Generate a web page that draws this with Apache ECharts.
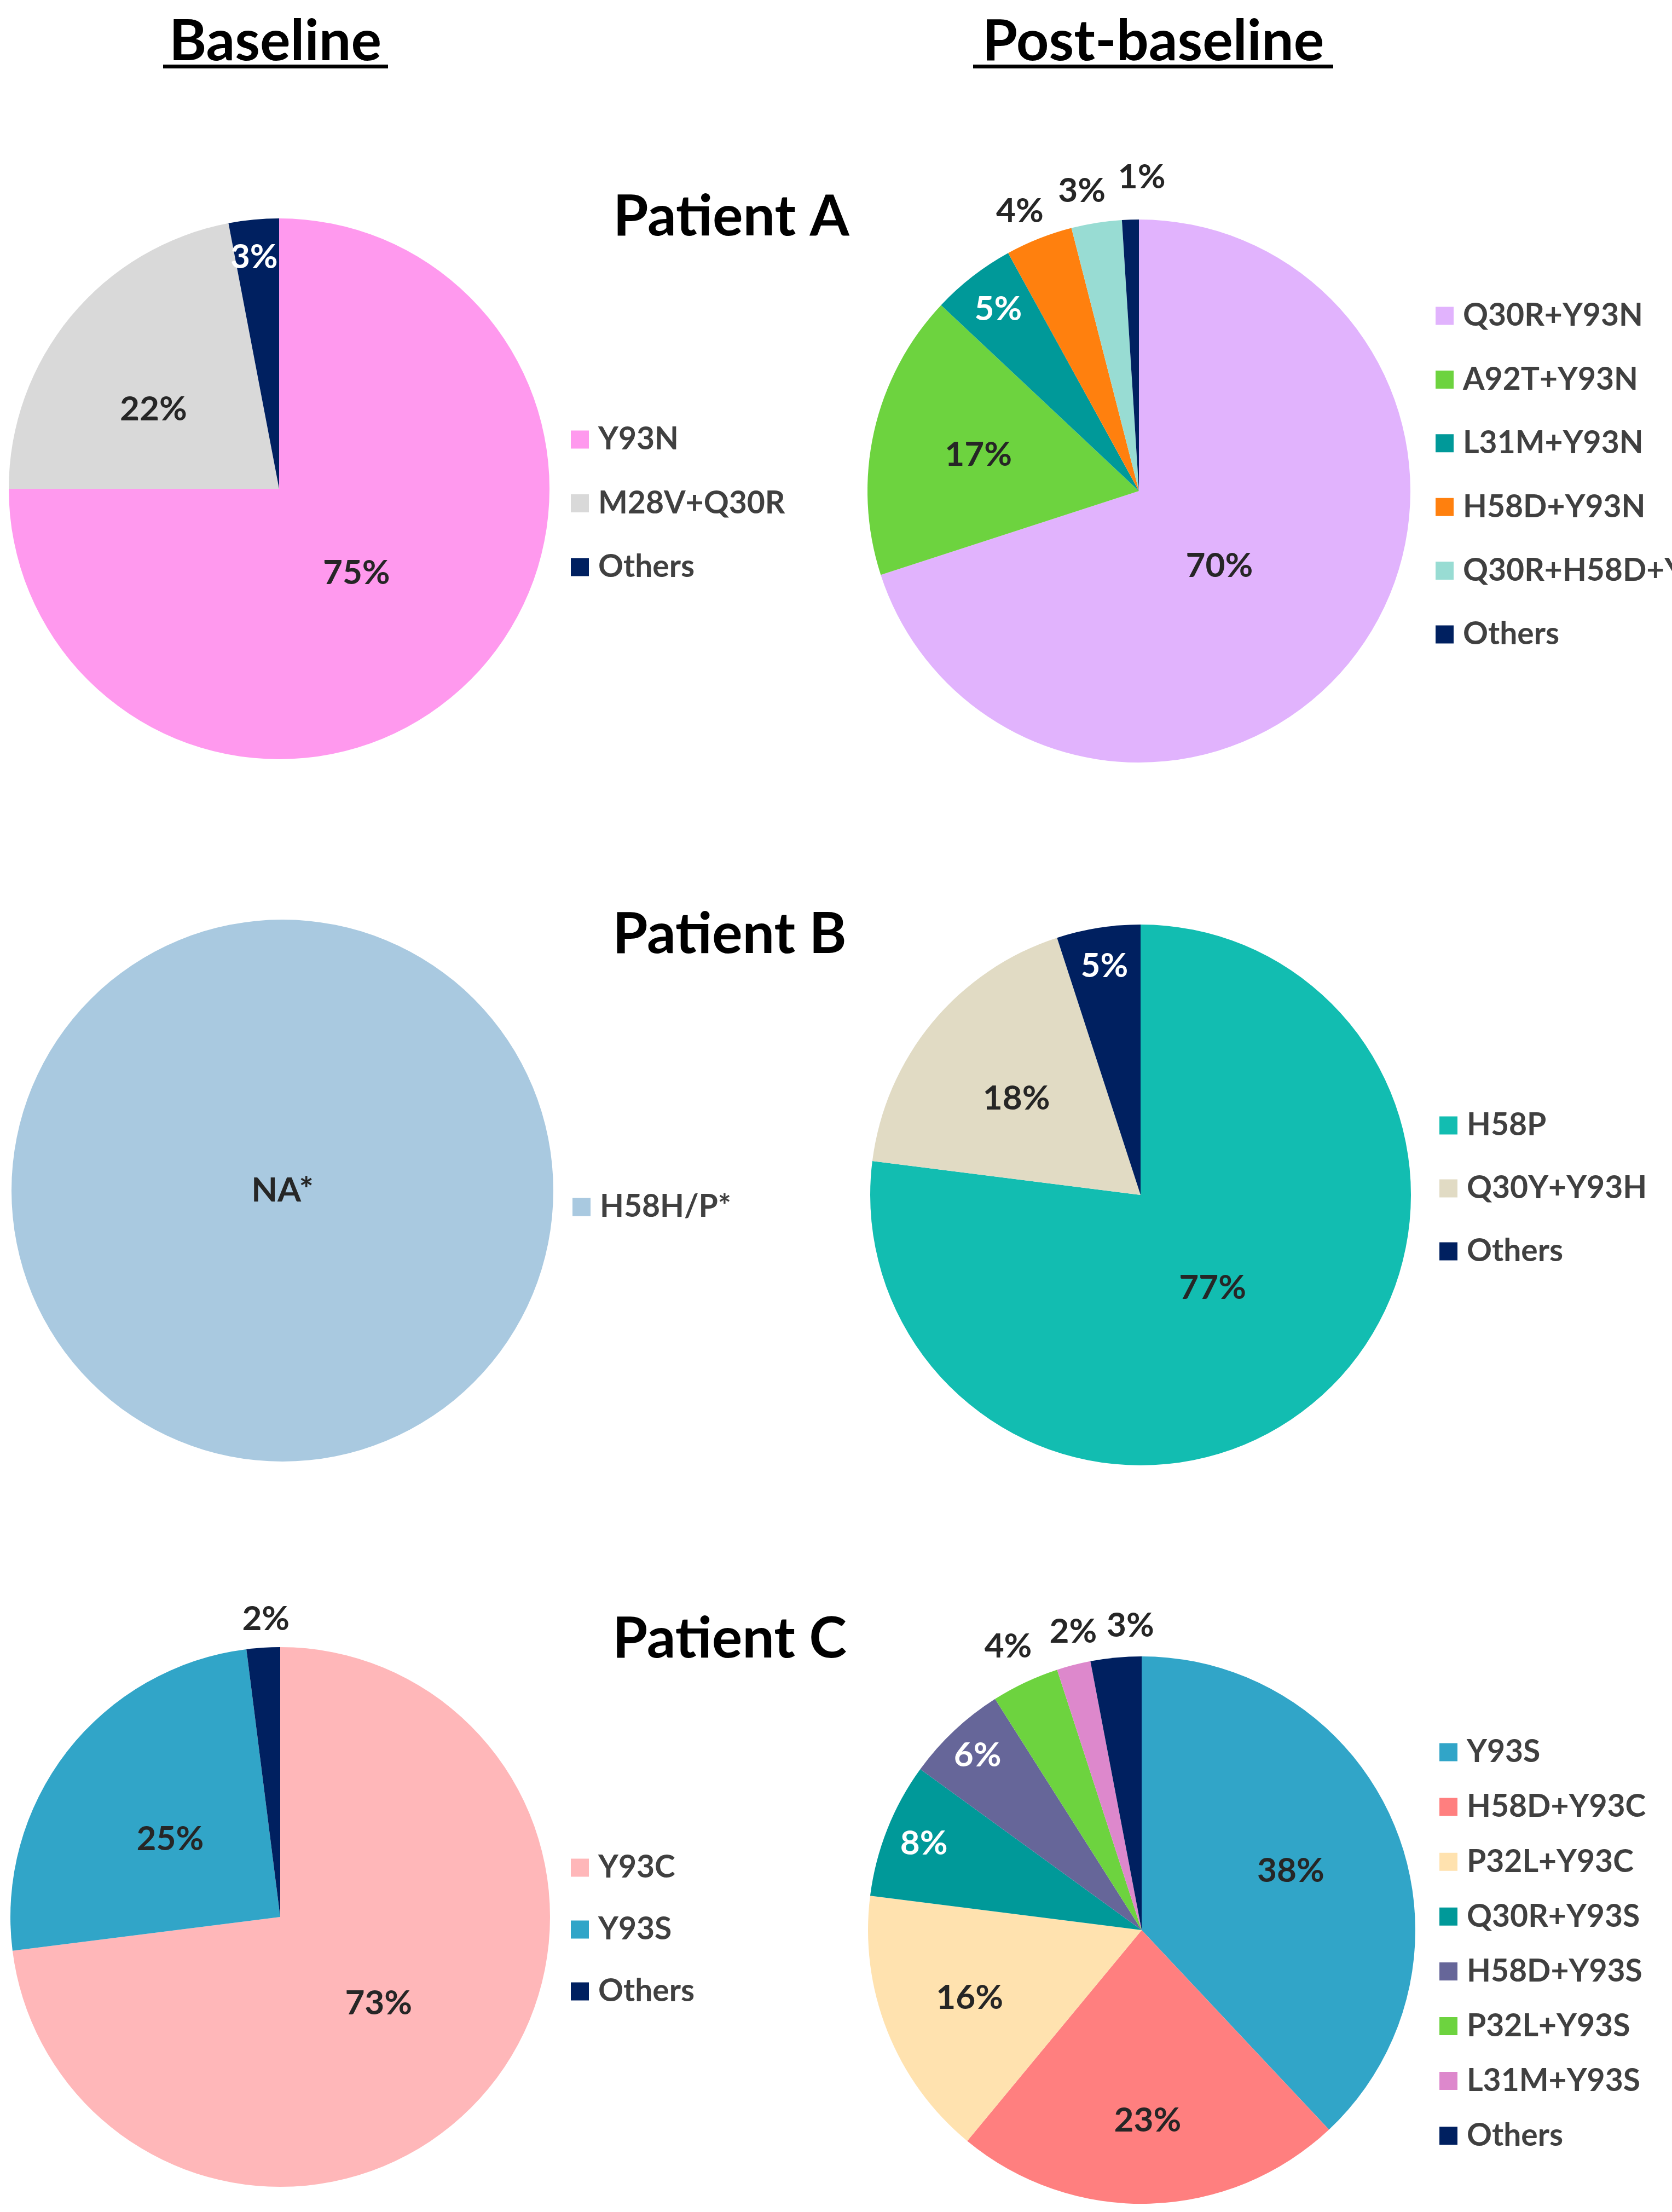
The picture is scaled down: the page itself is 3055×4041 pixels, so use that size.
<!DOCTYPE html>
<html>
<head>
<meta charset="utf-8">
<title>Baseline vs post-baseline variants</title>
<script src="https://cdn.jsdelivr.net/npm/echarts@6.0.0/dist/echarts.min.js"></script>
<style>
  html, body { margin: 0; padding: 0; background: #fff; }
  #chart { width: 3055px; height: 4041px; }
</style>
</head>
<body>
<div id="chart"></div>
<script>
// ---- data (percent of reads) ----
const columnTitles = ["Baseline", "Post-baseline"];
const patientTitles = ["Patient A", "Patient B", "Patient C"];

const aBaseNames = ["Y93N", "M28V+Q30R", "Others"];
const aBaseValues = [75, 22, 3];
const aPostNames = ["Q30R+Y93N", "A92T+Y93N", "L31M+Y93N", "H58D+Y93N", "Q30R+H58D+Y93N", "Others"];
const aPostValues = [70, 17, 5, 4, 3, 1];

const bBaseNames = ["H58H/P*"];
const bBaseValues = [100];
const bBaseText = ["NA*"];
const bPostNames = ["H58P", "Q30Y+Y93H", "Others"];
const bPostValues = [77, 18, 5];

const cBaseNames = ["Y93C", "Y93S", "Others"];
const cBaseValues = [73, 25, 2];
const cPostNames = ["Y93S", "H58D+Y93C", "P32L+Y93C", "Q30R+Y93S", "H58D+Y93S", "P32L+Y93S", "L31M+Y93S", "Others"];
const cPostValues = [38, 23, 16, 8, 6, 4, 2, 3];

// ---- look ----
const FONT = "Lato";
const NAVY = "#002060";
const LABEL_DARK = "#262626";

// spots: label distance as a share of the radius (0 = centre)
// nudge: small pixel shift of a label, like Excel's "best fit"
const pies = [
  { names: aBaseNames, values: aBaseValues, colors: ["#FF99EE", "#D9D9D9", NAVY],
    center: [510, 893], r: 494, spots: [0.45, 0.55, 0.87], white: [2],
    nudge: [[-18, -5], [-18, 30], [-5, 8]],
    legend: { left: 1043, first: 803, step: 116.5 } },
  { names: aPostNames, values: aPostValues,
    colors: ["#E1B3FD", "#6DD33F", "#009999", "#FF800E", "#98DCD3", NAVY],
    center: [2081, 897], r: 496, spots: [0.41, 0.6, 0.84, 1.12, 1.12, 1.14], white: [2],
    nudge: [[-20, 16], null, null, [-12, 8], [-17, 4], [23, -5]],
    legend: { left: 2623, first: 577, step: 116.4 } },
  { names: bBaseNames, values: bBaseValues, text: bBaseText, colors: ["#A9C9E0"],
    center: [516, 2175], r: 495, spots: [0], white: [],
    legend: { left: 1046, first: 2205, step: 115 } },
  { names: bPostNames, values: bPostValues, colors: ["#12BDB1", "#E1DBC4", NAVY],
    center: [2084, 2183], r: 494, spots: [0.44, 0.59, 0.85], white: [2],
    nudge: [[-14, 5], [0, 12], null],
    legend: { left: 2630, first: 2056, step: 115 } },
  { names: cBaseNames, values: cBaseValues, colors: ["#FFB7B9", "#31A5C8", NAVY],
    center: [512, 3502], r: 493, spots: [0.48, 0.51, 1.1], white: [],
    nudge: [null, [0, 14], [8, 0]],
    legend: { left: 1043, first: 3412, step: 113 } },
  { names: cPostNames, values: cPostValues,
    colors: ["#31A5C8", "#FF7F7F", "#FFE2AF", "#009999", "#666699", "#6DD33F", "#DD88CC", NAVY],
    center: [2086, 3526], r: 500, spots: [0.58, 0.69, 0.67, 0.85, 0.87, 1.14, 1.12, 1.11], white: [3, 4],
    nudge: [null, null, null, null, null, null, [15, 0], [32, 0]],
    legend: { left: 2630, first: 3201, step: 100.1 } }
];

const labelStyle = (color) => ({
  color: color, fontFamily: FONT, fontWeight: "bold", fontSize: 62
});

const series = [];
const legends = [];

pies.forEach((p, k) => {
  const textOf = (i) => (p.text ? p.text[i] : p.values[i] + "%");

  // the visible slices
  series.push({
    type: "pie",
    name: "pie" + k,
    center: p.center,
    radius: [0, p.r],
    startAngle: 90,
    clockwise: true,
    silent: true,
    avoidLabelOverlap: false,
    labelLine: { show: false },
    label: { show: false },
    data: p.names.map((n, i) => ({
      name: n,
      value: p.values[i],
      itemStyle: { color: p.colors[i] },
      label: p.spots[i] === 0
        ? Object.assign({ show: true, position: "center", formatter: textOf(i) }, labelStyle(LABEL_DARK))
        : { show: false }
    }))
  });

  // clear rings that only carry labels, one per label distance
  const spots = [...new Set(p.spots)].filter((f) => f > 0);
  spots.forEach((f) => {
    series.push({
      type: "pie",
      name: "pie" + k + "-labels-" + f,
      center: p.center,
      radius: [0, 2 * f * p.r],
      startAngle: 90,
      clockwise: true,
      silent: true,
      z: 5,
      legendHoverLink: false,
      avoidLabelOverlap: false,
      minShowLabelAngle: 0,
      emphasis: { disabled: true },
      itemStyle: { color: "rgba(0,0,0,0)" },
      labelLine: { show: false },
      label: { show: false },
      labelLayout: (params) => {
        const n = p.nudge && p.nudge[params.dataIndex];
        return { dx: n ? n[0] : 0, dy: n ? n[1] : 0, hideOverlap: false };
      },
      data: p.names.map((n, i) => ({
        name: n,
        value: p.values[i],
        label: Object.assign(
          { show: p.spots[i] === f, position: "inside", formatter: textOf(i) },
          labelStyle(p.white.includes(i) ? "#FFFFFF" : LABEL_DARK)
        )
      }))
    });
  });

  legends.push({
    orient: "vertical",
    left: p.legend.left,
    top: p.legend.first - 30,
    padding: 0,
    itemGap: p.legend.step - 60,
    itemWidth: 33,
    itemHeight: 33,
    icon: "rect",
    selectedMode: false,
    data: p.names,
    textStyle: {
      fontFamily: FONT, fontWeight: "bold", fontSize: 57, color: "#404040",
      lineHeight: 60, padding: [0, 0, 0, 12]
    }
  });
});

const headStyle = { fontFamily: FONT, fontWeight: "bold", fontSize: 104, color: "#000", lineHeight: 120 };

const titles = [
  { text: columnTitles[0], left: 503, top: 16 },
  { text: columnTitles[1], left: 2107, top: 16 },
  { text: patientTitles[0], left: 1336, top: 336 },
  { text: patientTitles[1], left: 1333, top: 1647 },
  { text: patientTitles[2], left: 1333, top: 2934 }
].map((t) => Object.assign({ textAlign: "center", padding: 0, textStyle: headStyle }, t));

const chart = echarts.init(document.getElementById("chart"), null, { renderer: "canvas" });
chart.setOption({
  backgroundColor: "#FFFFFF",
  animation: false,
  title: titles,
  legend: legends,
  // underlines of the two column headings
  graphic: [
    { type: "rect", shape: { x: 298, y: 118, width: 411, height: 7 }, style: { fill: "#000" } },
    { type: "rect", shape: { x: 1778, y: 118, width: 658, height: 7 }, style: { fill: "#000" } }
  ],
  series: series
});
</script>
</body>
</html>
